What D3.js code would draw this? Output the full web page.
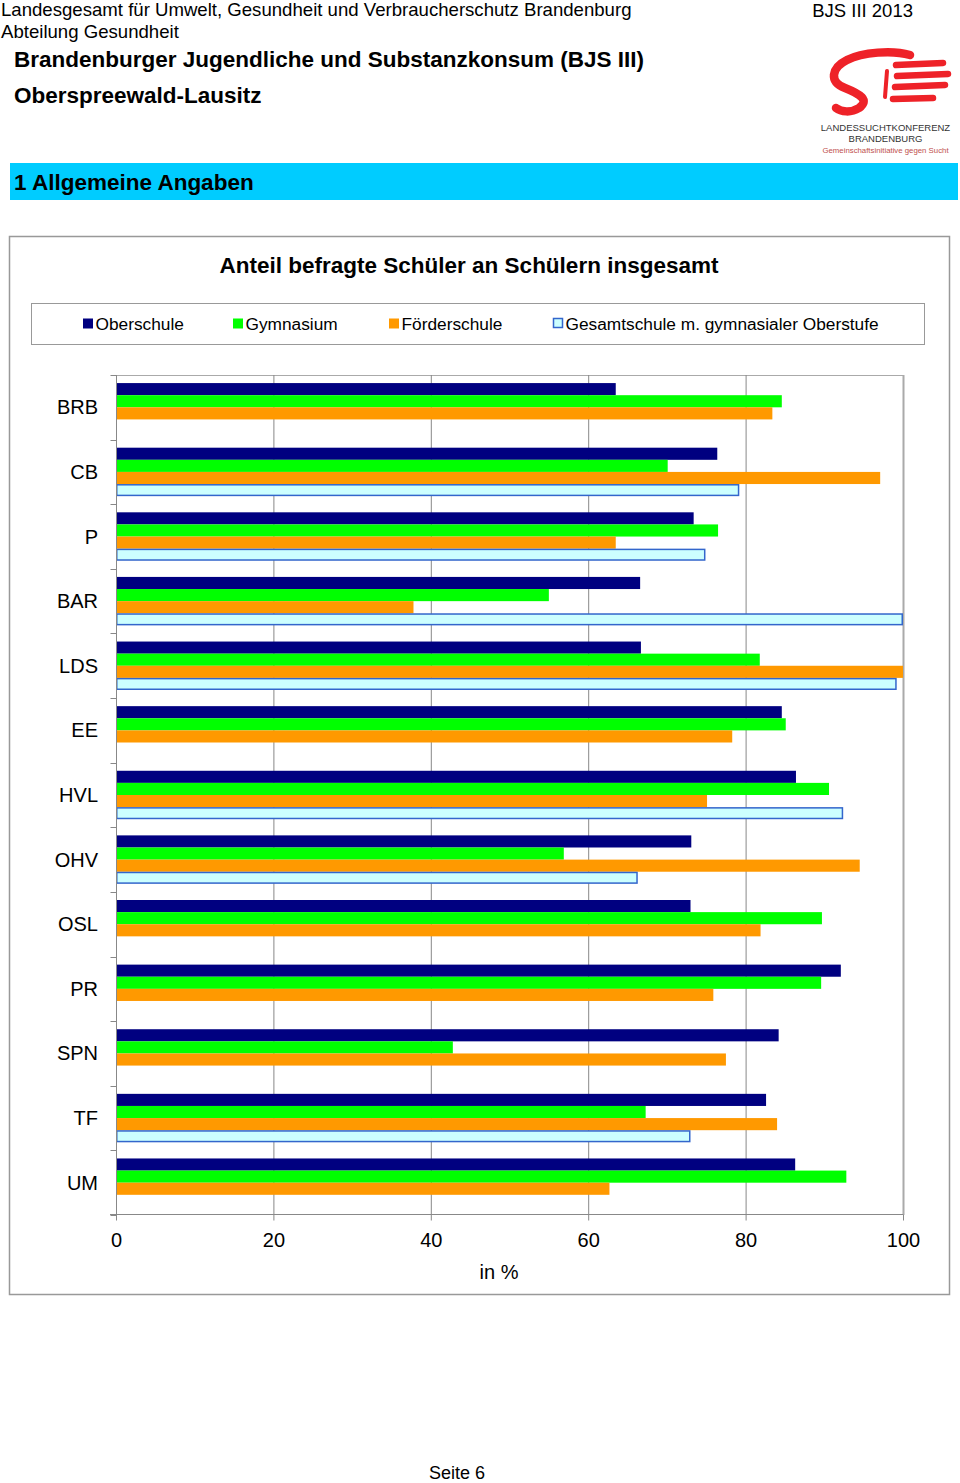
<!DOCTYPE html>
<html><head><meta charset="utf-8">
<script src="https://cdn.jsdelivr.net/npm/d3@7"></script>
<style>
body{margin:0;background:#fff;}
svg{display:block;font-family:"Liberation Sans",Arial,sans-serif;}
</style></head>
<body>
<script>
const categories = ["BRB","CB","P","BAR","LDS","EE","HVL","OHV","OSL","PR","SPN","TF","UM"];
const seriesNames = ["Oberschule","Gymnasium","Förderschule","Gesamtschule m. gymnasialer Oberstufe"];
const oberschule   = [63.5,76.4,73.4,66.6,66.7,84.6,86.4,73.1,73.0,92.1,84.2,82.6,86.3];
const gymnasium    = [84.6,70.1,76.5,55.0,81.8,85.1,90.6,56.9,89.7,89.6,42.8,67.3,92.8];
const foerderschule= [83.4,97.1,63.5,37.8,100,78.3,75.1,94.5,81.9,75.9,77.5,84.0,62.7];
const gesamtschule = [null,79.2,74.9,100,99.2,null,92.4,66.3,null,null,null,73.0,null];
const xTicks = [0,20,40,60,80,100];

const W=960,H=1483;
const svg=d3.select("body").append("svg").attr("width",W).attr("height",H);

// header
svg.append("text").attr("x",1).attr("y",16).attr("font-size",18.6).text("Landesgesamt für Umwelt, Gesundheit und Verbraucherschutz Brandenburg");
svg.append("text").attr("x",1).attr("y",37.5).attr("font-size",18.6).text("Abteilung Gesundheit");
svg.append("text").attr("x",14).attr("y",67).attr("font-size",22.5).attr("font-weight","bold").text("Brandenburger Jugendliche und Substanzkonsum (BJS III)");
svg.append("text").attr("x",14).attr("y",103).attr("font-size",22.5).attr("font-weight","bold").text("Oberspreewald-Lausitz");
svg.append("text").attr("x",913).attr("y",17).attr("font-size",18.5).attr("text-anchor","end").text("BJS III 2013");

// logo
const red="#ee2228";
const logo=svg.append("g");
logo.append("path").attr("d","M910,55 C893,50 862,52 847,60 C831,68 829,82 845,88 C860,94 870,100 859,108 C851,113 841,112 836,108")
  .attr("fill","none").attr("stroke",red).attr("stroke-width",8.5).attr("stroke-linecap","round");
logo.append("path").attr("d","M887,71 L885,97").attr("stroke",red).attr("stroke-width",4).attr("stroke-linecap","round");
[[896,65,943,63],[897,76,948,74],[895,87,945,85],[893,99,933,98]].forEach(d=>{
  logo.append("line").attr("x1",d[0]).attr("y1",d[1]).attr("x2",d[2]).attr("y2",d[3])
   .attr("stroke",red).attr("stroke-width",6.5).attr("stroke-linecap","round");
});
logo.append("text").attr("x",885.5).attr("y",131).attr("font-size",9.5).attr("text-anchor","middle").attr("fill","#333").text("LANDESSUCHTKONFERENZ");
logo.append("text").attr("x",885.5).attr("y",142).attr("font-size",9.5).attr("text-anchor","middle").attr("fill","#333").text("BRANDENBURG");
logo.append("text").attr("x",885.5).attr("y",152.5).attr("font-size",7.8).attr("text-anchor","middle").attr("fill","#c0504d").text("Gemeinschaftsinitiative gegen Sucht");

// banner
svg.append("rect").attr("x",10).attr("y",163).attr("width",948).attr("height",37).attr("fill","#00ccff");
svg.append("text").attr("x",14).attr("y",190).attr("font-size",22.5).attr("font-weight","bold").text("1 Allgemeine Angaben");

// chart box
svg.append("rect").attr("x",9.5).attr("y",236.5).attr("width",940).attr("height",1058).attr("fill","none").attr("stroke","#999").attr("stroke-width",1.5);
svg.append("text").attr("x",469).attr("y",272.5).attr("font-size",22.5).attr("font-weight","bold").attr("text-anchor","middle").text("Anteil befragte Schüler an Schülern insgesamt");

// legend
svg.append("rect").attr("x",31.5).attr("y",303.5).attr("width",893).attr("height",41).attr("fill","#fff").attr("stroke","#999");
const colors=["#000080","#00ff00","#ff9900","#ccffff"];
const strokes=[null,null,null,"#3366cc"];
const legX=[83,233,389,553];
seriesNames.forEach((n,i)=>{
  svg.append("rect").attr("x",legX[i]+ (i==3?0.5:0)).attr("y",318.5).attr("width",i==3?9:10).attr("height",i==3?9:10)
    .attr("fill",colors[i]).attr("stroke",strokes[i]||"none").attr("stroke-width",1.5);
  svg.append("text").attr("x",legX[i]+12.5).attr("y",330).attr("font-size",17.3).text(n);
});

// plot
const pL=116,pR=903,pT=375,pB=1215;
const x=d3.scaleLinear().domain([0,100]).range([pL,pR]);
const y=d3.scaleBand().domain(categories).range([pT,pB]).paddingInner(0.25).paddingOuter(0.125);
const sub=d3.scaleBand().domain(d3.range(4)).range([0,y.bandwidth()]);

svg.append("line").attr("x1",pL).attr("x2",pR).attr("y1",pT+0.5).attr("y2",pT+0.5).attr("stroke","#aaa");
svg.append("line").attr("x1",pR+0.5).attr("x2",pR+0.5).attr("y1",pT).attr("y2",pB).attr("stroke","#aaa").attr("stroke-width",2);
xTicks.slice(1,-1).forEach(t=>{
  svg.append("line").attr("x1",x(t)+0.5).attr("x2",x(t)+0.5).attr("y1",pT).attr("y2",pB).attr("stroke","#888");
});

const data=[oberschule,gymnasium,foerderschule,gesamtschule];
data.forEach((vals,si)=>{
  svg.append("g").selectAll("rect").data(categories.map((c,i)=>({c,v:vals[i]})).filter(d=>d.v!=null))
   .join("rect")
   .attr("x",pL+(si==3?0.75:0))
   .attr("y",d=>y(d.c)+sub(si)+(si==3?0.75:0))
   .attr("width",d=>x(d.v)-pL-(si==3?1.5:0))
   .attr("height",sub.bandwidth()-(si==3?1.5:0))
   .attr("fill",colors[si])
   .attr("stroke",strokes[si]||"none").attr("stroke-width",1.5);
});

// y axis
const yAxisG=svg.append("g").attr("transform",`translate(${pL+0.5},0)`);
yAxisG.append("line").attr("y1",pT).attr("y2",pB).attr("stroke","#888");
const bounds=d3.range(14).map(i=>pT+i*(pB-pT)/13);
bounds.forEach(b=>yAxisG.append("line").attr("x1",-6).attr("x2",0).attr("y1",Math.round(b)+0.5).attr("y2",Math.round(b)+0.5).attr("stroke","#888"));
categories.forEach(c=>{
  svg.append("text").attr("x",98).attr("y",y(c)+y.bandwidth()/2+7).attr("font-size",20).attr("text-anchor","end").text(c);
});

// x axis
const xAxis=d3.axisBottom(x).tickValues(xTicks).tickSize(6).tickSizeOuter(0);
const xg=svg.append("g").attr("transform",`translate(0,${pB-0.5})`).call(xAxis);
xg.select(".domain").attr("stroke","#888").attr("d",`M${pL-6},0H${pR}`);
xg.selectAll(".tick line").attr("stroke","#888");
xg.selectAll(".tick text").attr("font-size",20).attr("font-family","Liberation Sans, Arial, sans-serif").attr("fill","#000").attr("y",18).attr("dy","0.71em");
svg.append("text").attr("x",499).attr("y",1279).attr("font-size",20).attr("text-anchor","middle").text("in %");

svg.append("text").attr("x",457).attr("y",1478.5).attr("font-size",18).attr("text-anchor","middle").text("Seite 6");
</script>
</body></html>
